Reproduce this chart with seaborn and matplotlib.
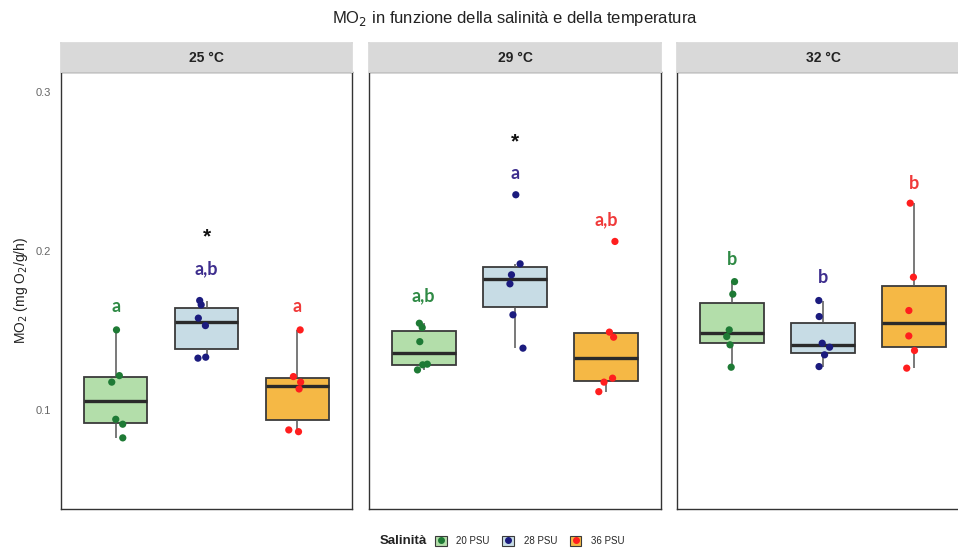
import numpy as np
import pandas as pd
import matplotlib
matplotlib.use("Agg")
import matplotlib.pyplot as plt
from matplotlib.patches import Patch
from matplotlib.lines import Line2D
import seaborn as sns

# ---------------- data ----------------
temperatures = ["25 °C", "29 °C", "32 °C"]
salinities = ["20 PSU", "28 PSU", "36 PSU"]

mo2_25_20 = [0.1504, 0.1216, 0.1175, 0.0941, 0.0910, 0.0824]
mo2_25_28 = [0.1689, 0.1662, 0.1578, 0.1531, 0.1326, 0.1332]
mo2_25_36 = [0.1504, 0.1210, 0.1175, 0.1132, 0.0874, 0.0863]

mo2_29_20 = [0.1546, 0.1519, 0.1430, 0.1288, 0.1284, 0.1252]
mo2_29_28 = [0.2355, 0.1920, 0.1851, 0.1794, 0.1599, 0.1389]
mo2_29_36 = [0.2061, 0.1490, 0.1458, 0.1200, 0.1175, 0.1115]

mo2_32_20 = [0.1808, 0.1729, 0.1504, 0.1462, 0.1410, 0.1269]
mo2_32_28 = [0.1689, 0.1588, 0.1420, 0.1395, 0.1347, 0.1273]
mo2_32_36 = [0.2302, 0.1836, 0.1626, 0.1466, 0.1374, 0.1263]

letters_25 = ["a", "a,b", "a"]
letters_29 = ["a,b", "a", "a,b"]
letters_32 = ["b", "b", "b"]
letter_y_25 = [0.1651, 0.1889, 0.1651]
letter_y_29 = [0.1720, 0.2491, 0.2197]
letter_y_32 = [0.1950, 0.1836, 0.2424]
star_y_25 = 0.2090
star_y_29 = 0.2690

series = {
    "25 °C": [mo2_25_20, mo2_25_28, mo2_25_36],
    "29 °C": [mo2_29_20, mo2_29_28, mo2_29_36],
    "32 °C": [mo2_32_20, mo2_32_28, mo2_32_36],
}
letters = {"25 °C": letters_25, "29 °C": letters_29, "32 °C": letters_32}
letter_y = {"25 °C": letter_y_25, "29 °C": letter_y_29, "32 °C": letter_y_32}
stars = {"25 °C": star_y_25, "29 °C": star_y_29, "32 °C": None}

rows = []
for t in temperatures:
    for s, vals in zip(salinities, series[t]):
        for v in vals:
            rows.append({"Temperatura": t, "Salinità": s, "MO2": v})
df = pd.DataFrame(rows)

# ---------------- style ----------------
sns.set_theme(style="white")
plt.rcParams["font.family"] = ["Liberation Sans", "DejaVu Sans"]

fill_cols = {"20 PSU": "#B3DEAA", "28 PSU": "#C7DCE5", "36 PSU": "#F5B845"}
point_cols = {"20 PSU": "#1E7A35", "28 PSU": "#1B1B7E", "36 PSU": "#FF1E1E"}
letter_cols = ["#2F8A45", "#3E2E8E", "#F03A3A"]

W, H = 958, 549
fig = plt.figure(figsize=(W / 100, H / 100), dpi=100)

panel_x = [(61, 352), (369, 661), (677, 969)]
ptop, pbot = 71.7, 509
strip_top = 43.3

np.random.seed(3)
for i, t in enumerate(temperatures):
    x0, x1 = panel_x[i]
    ax = fig.add_axes([x0 / W, 1 - pbot / H, (x1 - x0) / W, (pbot - ptop) / H])
    sub = df[df["Temperatura"] == t]
    sns.boxplot(
        data=sub, x="Salinità", y="MO2", hue="Salinità", order=salinities,
        hue_order=salinities, palette=fill_cols, saturation=1, width=0.7,
        showfliers=False, linecolor="#3A3A3A", linewidth=1.3, legend=False,
        ax=ax, showcaps=False,
        medianprops=dict(color="#2A2A2A", linewidth=2.4),
        whiskerprops=dict(color="#555555", linewidth=1.1),
    )
    sns.stripplot(
        data=sub, x="Salinità", y="MO2", hue="Salinità", order=salinities,
        hue_order=salinities, palette=point_cols, jitter=0.1, size=5.2,
        legend=False, ax=ax, zorder=5,
    )
    for j in range(3):
        ax.text(j, letter_y[t][j], letters[t][j], color=letter_cols[j],
                ha="center", va="center", fontsize=13, fontweight="bold",
                family=["Lato", "DejaVu Sans"], zorder=6)
    if stars[t] is not None:
        ax.text(1, stars[t], "*", color="#111111", ha="center", va="center",
                fontsize=15, fontweight="bold", zorder=6)
    ax.set_xlim(-0.6, 2.6)
    ax.set_ylim(0.0376, 0.313)
    ax.set_yticks([0.1, 0.2, 0.3])
    ax.set_xlabel("")
    ax.set_xticks([])
    ax.grid(False)
    for sp in ax.spines.values():
        sp.set_color("#333333")
        sp.set_linewidth(1.0)
    if i == 0:
        ax.set_yticklabels(["0.1", "0.2", "0.3"])
        ax.tick_params(axis="y", length=0, pad=7, labelsize=8, labelcolor="#666666")
        ax.set_ylabel("MO$_2$ (mg O$_2$/g/h)", fontsize=10, color="#222222", labelpad=4)
    else:
        ax.set_yticklabels([])
        ax.tick_params(axis="y", length=0)
        ax.set_ylabel("")
    # strip
    sax = fig.add_axes([x0 / W, 1 - ptop / H, (x1 - x0) / W, (ptop - strip_top) / H])
    sax.set_facecolor("#D9D9D9")
    sax.set_xticks([]); sax.set_yticks([])
    for sp in sax.spines.values():
        sp.set_color("#D9D9D9")
    sax.text(0.5, 0.5, t, ha="center", va="center", fontsize=10,
             fontweight="bold", color="#222222", transform=sax.transAxes)

fig.text(515 / W, 1 - 19 / H, "MO$_2$ in funzione della salinità e della temperatura",
         ha="center", va="center", fontsize=12, color="#222222")

# legend
handles = [
    (Patch(facecolor=fill_cols[s], edgecolor="#3A3A3A", linewidth=0.8),
     Line2D([], [], marker="o", linestyle="", color=point_cols[s], markersize=4))
    for s in salinities
]
fig.text(403 / W, 1 - 541 / H, "Salinità", ha="center", va="center",
         fontsize=9.5, fontweight="bold", color="#222222")
fig.legend(handles, salinities, loc="center left", bbox_to_anchor=(430 / W, 1 - 541 / H),
           ncol=3, frameon=False, fontsize=7, handlelength=1.2, handleheight=1.2,
           handletextpad=1.0, columnspacing=1.3, borderpad=0)

fig.savefig("out.png", dpi=100)
